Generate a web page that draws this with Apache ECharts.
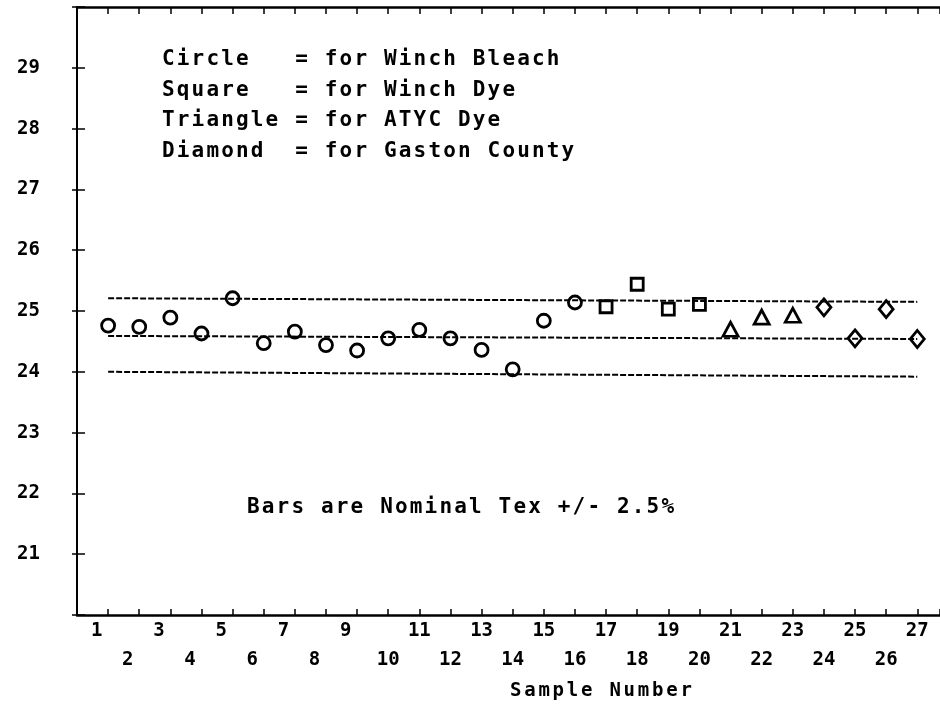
<!DOCTYPE html>
<html>
<head>
<meta charset="UTF-8">
<title>Tex by sample number</title>
<script src="https://cdn.jsdelivr.net/npm/echarts@6/dist/echarts.min.js"></script>
<style>
  html, body { margin: 0; padding: 0; background: #fff; }
  #chart { width: 940px; height: 708px; }
</style>
</head>
<body>
<div id="chart"></div>
<script>
// tex readings per plant (x = sample number)
var circleSamples = [1, 2, 3, 4, 5, 6, 7, 8, 9, 10, 11, 12, 13, 14, 15, 16];
var circleTex = [24.76, 24.74, 24.89, 24.63, 25.21, 24.47, 24.66, 24.44, 24.35, 24.55, 24.69, 24.55, 24.36, 24.04, 24.84, 25.14];
var squareSamples = [17, 18, 19, 20];
var squareTex = [25.07, 25.44, 25.03, 25.11];
var triangleSamples = [21, 22, 23];
var triangleTex = [24.70, 24.90, 24.93];
var diamondSamples = [24, 25, 26, 27];
var diamondTex = [25.06, 24.55, 25.03, 24.54];

// nominal tex and +/- 2.5% bars, read at sample 1 and sample 27
var barSamples = [1, 27];
var upperBar = [25.21, 25.15];
var nominalBar = [24.59, 24.54];
var lowerBar = [24.00, 23.92];

var legendLines = [
    'Circle   = for Winch Bleach',
    'Square   = for Winch Dye',
    'Triangle = for ATYC Dye',
    'Diamond  = for Gaston County'
];
var noteText = 'Bars are Nominal Tex +/- 2.5%';
var xName = 'Sample Number';

var FONT = 'DejaVu Sans Mono';

function pairs(xs, ys) {
    return xs.map(function (x, i) { return [x, ys[i]]; });
}

// plotter lettering is wide spaced, so give each char its own cell
function spaced(s) {
    return s.split('').map(function (ch) { return '{c|' + ch + '}'; }).join('');
}

function marker(name, symbol, size, xs, ys) {
    return {
        name: name,
        type: 'scatter',
        symbol: symbol,
        symbolSize: size,
        data: pairs(xs, ys),
        itemStyle: { color: 'rgba(0,0,0,0)', borderColor: '#000', borderWidth: 2.8, opacity: 1 },
        z: 5
    };
}

function bar(ys) {
    return {
        type: 'line',
        data: pairs(barSamples, ys),
        symbol: 'none',
        lineStyle: { color: '#000', width: 2, type: [6, 2] },
        z: 3
    };
}

var chart = echarts.init(document.getElementById('chart'));
chart.setOption({
    animation: false,
    backgroundColor: '#fff',
    grid: { left: 77, right: 0, top: 7, bottom: 93, containLabel: false, outerBoundsMode: 'none' },
    xAxis: [{
        type: 'value',
        min: 0,
        max: 27.73,
        interval: 1,
        axisLine: { lineStyle: { color: '#000', width: 2.5 } },
        axisTick: { inside: true, length: 6, lineStyle: { color: '#000', width: 1.5 } },
        splitLine: { show: false },
        axisLabel: {
            color: '#000',
            fontFamily: FONT,
            fontSize: 19,
            fontWeight: 'bold',
            margin: 2,
            lineHeight: 29,
            formatter: function (v) {
                if (v < 1 || v !== Math.round(v)) return '';
                var s = v < 10 ? v + '  ' : '' + v;
                return v % 2 ? s : '\n' + s;
            }
        }
    }, {
        type: 'value',
        position: 'top',
        min: 0,
        max: 27.73,
        interval: 1,
        axisLine: { lineStyle: { color: '#000', width: 2.5 } },
        axisTick: { inside: true, length: 7, lineStyle: { color: '#000', width: 1.5 } },
        axisLabel: { show: false },
        splitLine: { show: false }
    }],
    yAxis: [{
        type: 'value',
        min: 20,
        max: 30,
        interval: 1,
        axisLine: { show: true, lineStyle: { color: '#000', width: 2 } },
        axisTick: { show: true, inside: true, length: 8, lineStyle: { color: '#000', width: 1.5 } },
        splitLine: { show: false },
        axisLabel: {
            color: '#000',
            fontFamily: FONT,
            fontSize: 19,
            fontWeight: 'bold',
            margin: 37,
            formatter: function (v) { return (v > 20 && v < 30) ? '' + v : ''; }
        }
    }, {
        type: 'value',
        position: 'right',
        min: 20,
        max: 30,
        interval: 1,
        axisLine: { show: false },
        axisTick: { show: true, inside: true, length: 5, lineStyle: { color: '#000', width: 1.5 } },
        axisLabel: { show: false },
        splitLine: { show: false }
    }],
    graphic: [{
        type: 'text',
        left: 162,
        top: 49,
        style: {
            text: legendLines.map(spaced).join('\n'),
            rich: { c: { width: 14.8, fontSize: 21, fontWeight: 'bold', fontFamily: FONT, lineHeight: 30.7, fill: '#000' } }
        }
    }, {
        type: 'text',
        left: 247,
        top: 497,
        style: {
            text: spaced(noteText),
            rich: { c: { width: 14.8, fontSize: 21, fontWeight: 'bold', fontFamily: FONT, lineHeight: 30, fill: '#000' } }
        }
    }, {
        type: 'text',
        left: 510,
        top: 682,
        style: {
            text: spaced(xName),
            rich: { c: { width: 14.2, fontSize: 19, fontWeight: 'bold', fontFamily: FONT, lineHeight: 28, fill: '#000' } }
        }
    }],
    series: [
        bar(upperBar),
        bar(nominalBar),
        bar(lowerBar),
        marker('Winch Bleach', 'circle', 13, circleSamples, circleTex),
        marker('Winch Dye', 'rect', 12, squareSamples, squareTex),
        marker('ATYC Dye', 'triangle', [15, 14], triangleSamples, triangleTex),
        marker('Gaston County', 'diamond', [14, 17], diamondSamples, diamondTex)
    ]
});
</script>
</body>
</html>
